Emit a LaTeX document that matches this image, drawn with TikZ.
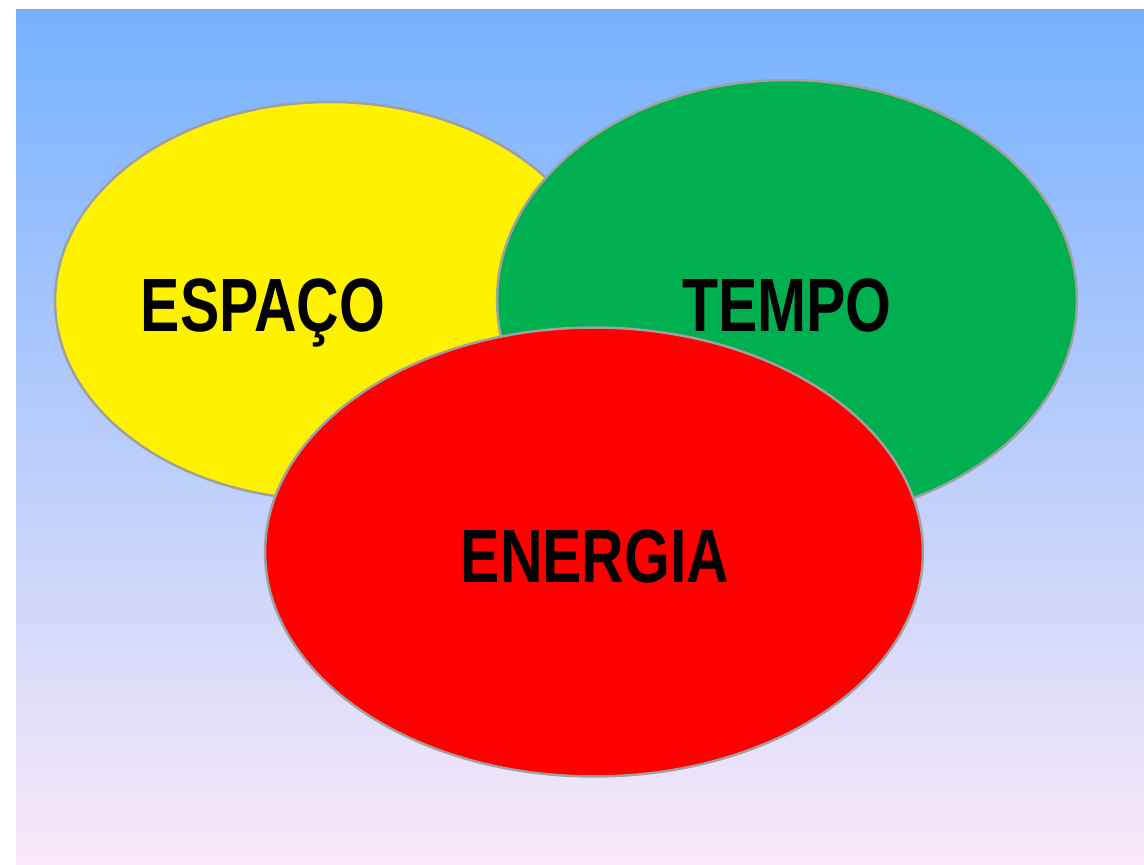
\documentclass[tikz,border=0pt]{standalone}
\usepackage{fontspec}
\usepackage{xcolor}
\usepackage{tikz}
\usetikzlibrary{shapes.geometric}

\newfontfamily\labelfont[FakeStretch=0.78]{Liberation Sans}

\definecolor{skytop}{RGB}{118,177,255}
\definecolor{skymid}{RGB}{190,210,238}
\definecolor{skybot}{RGB}{250,233,249}
\definecolor{rimgray}{RGB}{160,160,160}
\definecolor{leafgreen}{RGB}{0,176,80}

\begin{document}
\begin{tikzpicture}[x=0.02cm,y=-0.02cm,
    blob/.style={ellipse,draw=rimgray,line width=1.4pt,inner sep=0pt},
    word/.style={anchor=base,text=black,font=\labelfont\bfseries\fontsize{43}{50}\selectfont}]
            % \tikzstyle{blob}=[draw=none]

            \useasboundingbox (0,0) rectangle (1144,865);
            \shade[top color=skytop,middle color=skymid,bottom color=skybot] (16,10) rectangle (1144,865);

            \node[blob,fill=yellow,minimum width=11cm,minimum height=7.96cm]         (espaco) at (330,301) {};
            \node[blob,fill=leafgreen,minimum width=11.6cm,minimum height=8.8cm]     (tempo)  at (787,300) {};
            \node[blob,fill=red,minimum width=13.16cm,minimum height=8.98cm]         (energia) at (594,552) {};

            \node[word] (espacotext)  at (263,332) {ESPAÇO};
            \node[word] (tempotext)   at (787,332) {TEMPO};
            \node[word] (energiatext) at (595,582) {ENERGIA};
        \end{tikzpicture}
\end{document}
